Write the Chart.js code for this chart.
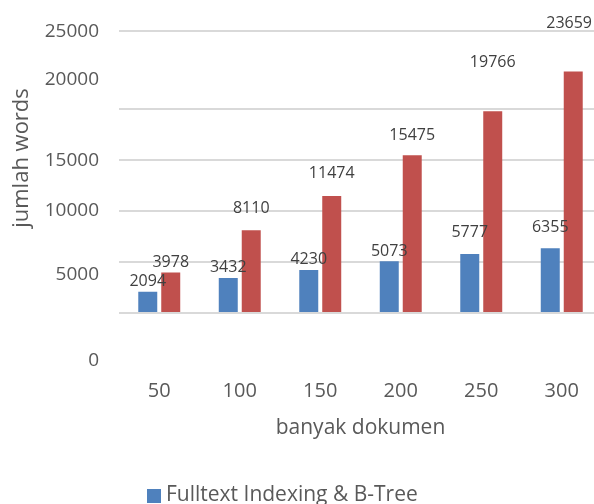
<!DOCTYPE html>
<html><head><meta charset="utf-8">
<script src="https://cdn.jsdelivr.net/npm/chart.js@4/dist/chart.umd.min.js"></script>
<style>
html,body{margin:0;padding:0;overflow:hidden;background:#fff}
#wrap{width:594px;height:504px;overflow:hidden;position:relative}
canvas{display:block}
</style>
</head><body>
<div id="wrap"><canvas id="c" width="602" height="504"></canvas></div>
<script>
// ---- data ----
const categories = ['50', '100', '150', '200', '250', '300'];
const seriesNames = ['Fulltext Indexing & B-Tree', 'Series 2'];
const fulltextValues = [2094, 3432, 4230, 5073, 5777, 6355];
const secondValues = [3978, 8110, 11474, 15475, 19766, 23659];
const yTickLabels = ['0', '5000', '10000', '15000', '20000', '25000'];
const xTitle = 'banyak dokumen';
const yTitle = 'jumlah words';

// ---- layout / style ----
const yRange = { min: -4700, max: 27600 };
const gridValues = [0, 5000, 10000, 15000, 20000, 27600];
const yLabelAt = [-4700, 3720, 10030, 14930, 22850, 27600];
const labelLift = [[10, 11, 10, 10, 22, 21], [10, 22, 23, 20, 49, 48]];
const colors = ['#4F81BD', '#C0504D'];
const textColor = '#595959';
const FONT = '"Open Sans", "Noto Sans", sans-serif';
Chart.defaults.font.family = FONT;
Chart.defaults.color = textColor;

const overlay = {
  id: 'overlay',
  afterDatasetsDraw(chart) {
    const ctx = chart.ctx;
    ctx.save();
    ctx.font = '16px ' + FONT;
    ctx.fillStyle = '#404040';
    ctx.textAlign = 'center';
    ctx.textBaseline = 'middle';
    chart.data.datasets.forEach((ds, di) => {
      chart.getDatasetMeta(di).data.forEach((bar, i) => {
        const txt = String(ds.data[i]);
        const w = ctx.measureText(txt).width;
        const x = Math.min(bar.x, 592 - w / 2);
        ctx.fillText(txt, x, bar.y - labelLift[di][i]);
      });
    });
    // legend (first entry; the rest is cut off in the reference)
    ctx.fillStyle = colors[0];
    ctx.fillRect(147, 489, 14, 14);
    ctx.font = '21px ' + FONT;
    ctx.fillStyle = textColor;
    ctx.textAlign = 'left';
    ctx.textBaseline = 'alphabetic';
    ctx.fillText(seriesNames[0], 166, 501);
    // y axis title
    ctx.font = '22px ' + FONT;
    ctx.translate(22, 158);
    ctx.rotate(-Math.PI / 2);
    ctx.textAlign = 'center';
    ctx.textBaseline = 'middle';
    ctx.fillText(yTitle, 0, 0);
    ctx.restore();
  }
};

new Chart(document.getElementById('c'), {
  type: 'bar',
  data: {
    labels: categories,
    datasets: [
      { label: seriesNames[0], data: fulltextValues, backgroundColor: colors[0], categoryPercentage: 0.571, barPercentage: 0.826 },
      { label: seriesNames[1], data: secondValues, backgroundColor: colors[1], categoryPercentage: 0.571, barPercentage: 0.826 }
    ]
  },
  options: {
    responsive: false,
    animation: false,
    devicePixelRatio: 1,
    layout: { padding: { top: 31, left: 0, right: 0, bottom: 0 } },
    plugins: { legend: { display: false }, tooltip: { enabled: false } },
    scales: {
      x: {
        grid: { display: false, drawTicks: false },
        border: { display: false },
        ticks: { font: { size: 20 }, color: textColor, padding: 18, maxRotation: 0 },
        title: { display: true, text: xTitle, font: { size: 21 }, color: textColor, padding: { top: 0, bottom: 63 } },
        afterFit(s) { s.height = 143; }
      },
      y: {
        position: 'left',
        min: yRange.min, max: yRange.max,
        grid: { color: '#D9D9D9', lineWidth: 2, drawTicks: false },
        border: { display: false },
        ticks: { display: false },
        afterBuildTicks(s) { s.ticks = gridValues.map(v => ({ value: v })); },
        afterFit(s) { s.width = 0; }
      },
      yl: {
        position: 'left',
        min: yRange.min, max: yRange.max,
        grid: { display: false, drawTicks: false },
        border: { display: false },
        ticks: { font: { size: 19 }, color: textColor, padding: 20, autoSkip: false,
                 callback: (v, i) => yTickLabels[i] },
        afterBuildTicks(s) { s.ticks = yLabelAt.map(v => ({ value: v })); },
        afterFit(s) { s.width = 119; }
      }
    }
  },
  plugins: [overlay]
});
</script>
</body></html>
